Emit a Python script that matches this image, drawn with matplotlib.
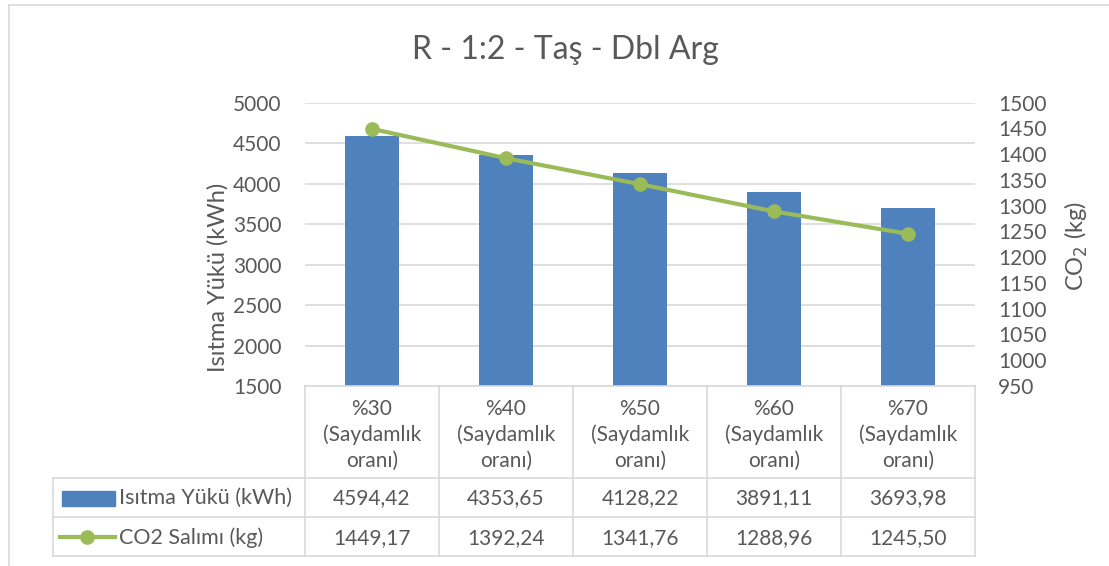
import numpy as np
import matplotlib.pyplot as plt
from matplotlib.patches import Rectangle
from matplotlib.lines import Line2D
import matplotlib.transforms as mtransforms

plt.rcParams['font.family'] = ['Lato', 'DejaVu Sans']

# data
categories = ['%30\n(Saydamlık\noranı)', '%40\n(Saydamlık\noranı)', '%50\n(Saydamlık\noranı)',
              '%60\n(Saydamlık\noranı)', '%70\n(Saydamlık\noranı)']
heat_load = [4594.42, 4353.65, 4128.22, 3891.11, 3693.98]
co2 = [1449.17, 1392.24, 1341.76, 1288.96, 1245.50]
series_names = ['Isıtma Yükü (kWh)', 'CO2 Salımı (kg)']

BLUE = '#4F81BD'
GREEN = '#9BBB59'
TXT = '#595959'
GRID = '#D9D9D9'
W, H = 1109, 566
FS = 15

fig = plt.figure(figsize=(W / 100, H / 100), dpi=100)
ax = fig.add_axes([305 / W, 1 - 386 / H, 670 / W, (386 - 102.7) / H])
ax2 = ax.twinx()

x = np.arange(len(categories))
ax.bar(x, heat_load, width=0.4, color=BLUE, zorder=2)
ax.set_xlim(-0.5, len(categories) - 0.5)
ax.set_ylim(1500, 5000)
ax.set_yticks(np.arange(1500, 5001, 500))
ax.yaxis.grid(True, color=GRID, linewidth=1.2, zorder=0)
ax.set_axisbelow(True)
ax.set_xticks([])

ax2.plot(x, co2, color=GREEN, linewidth=3, marker='o', markersize=9.5, zorder=3)
ax2.set_ylim(950, 1500)
ax2.set_yticks(np.arange(950, 1501, 50))

for a in (ax, ax2):
    for s in a.spines.values():
        s.set_visible(False)
    a.tick_params(length=0, labelsize=FS, labelcolor=TXT)
ax.tick_params(axis='y', pad=17)
ax2.tick_params(axis='y', pad=16.5)

ax.set_ylabel('Isıtma Yükü (kWh)', fontsize=17, color=TXT)
ax.yaxis.set_label_coords((229 - 305) / 670, (386 - 277) / 283.3)
ax2.set_ylabel('CO$_2$ (kg)', fontsize=17, color=TXT)
ax2.yaxis.set_label_coords((1063 - 305) / 670, (386 - 246) / 283.3)
fig.text(565 / W, 1 - 50 / H, 'R - 1:2 - Taş - Dbl Arg', fontsize=23, color=TXT,
         ha='center', va='center')

# data table under the plot
tr = mtransforms.blended_transform_factory(ax.transData, fig.transFigure)
def fy(py):
    return 1 - py / H

legend_left = -0.5 - (305 - 53) / 134
right = len(categories) - 0.5
rows_y = [386, 478, 517, 556]
lw = 1.2
# horizontal lines
fig.add_artist(Line2D([-0.5, right], [fy(386)] * 2, transform=tr, color=GRID, lw=lw))
for py in rows_y[1:]:
    fig.add_artist(Line2D([legend_left, right], [fy(py)] * 2, transform=tr, color=GRID, lw=lw))
# vertical lines
fig.add_artist(Line2D([legend_left] * 2, [fy(478), fy(556)], transform=tr, color=GRID, lw=lw))
for i in range(len(categories) + 1):
    fig.add_artist(Line2D([i - 0.5] * 2, [fy(386), fy(556)], transform=tr, color=GRID, lw=lw))

for i, cat in enumerate(categories):
    fig.text(i, fy(435), cat, transform=tr, ha='center', va='center', fontsize=FS,
             color=TXT, linespacing=1.32)
    fig.text(i, fy(498), f'{heat_load[i]:.2f}'.replace('.', ','), transform=tr,
             ha='center', va='center', fontsize=FS, color=TXT)
    fig.text(i, fy(538), f'{co2[i]:.2f}'.replace('.', ','), transform=tr,
             ha='center', va='center', fontsize=FS, color=TXT)

# legend keys in the table
fig.add_artist(Rectangle((62 / W, fy(506)), 53 / W, 15 / H, transform=fig.transFigure,
                         color=BLUE))
fig.add_artist(Line2D([60 / W, 115 / W], [fy(537)] * 2, transform=fig.transFigure,
                      color=GREEN, lw=3))
fig.add_artist(Line2D([87 / W], [fy(537)], transform=fig.transFigure, color=GREEN,
                      marker='o', markersize=9.5))
fig.text(119 / W, fy(498), series_names[0], ha='left', va='center', fontsize=15.5, color=TXT)
fig.text(119 / W, fy(538), series_names[1], ha='left', va='center', fontsize=15.5, color=TXT)

# chart area border
fig.add_artist(Line2D([8.5 / W, 8.5 / W], [fy(4.5), 0], transform=fig.transFigure,
                      color=GRID, lw=1.2))
fig.add_artist(Line2D([8.5 / W, 1], [fy(4.5), fy(4.5)], transform=fig.transFigure,
                      color=GRID, lw=1.2))

fig.savefig('out.png', dpi=100, facecolor='white')
